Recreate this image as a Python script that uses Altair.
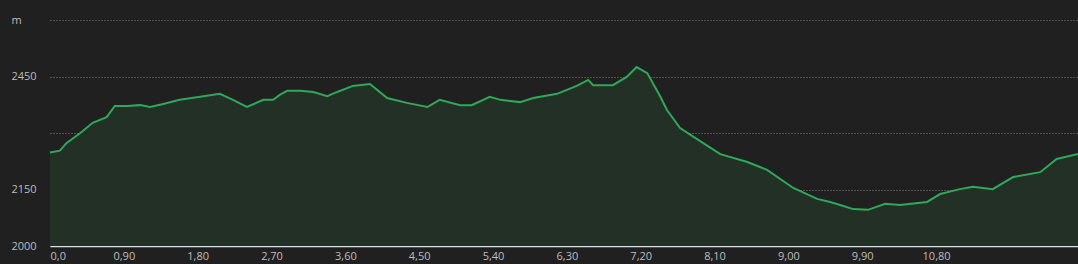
import altair as alt
import pandas as pd

km = [0.00, 0.12, 0.20, 0.37, 0.52, 0.69, 0.79, 0.94, 1.10, 1.22, 1.38, 1.58, 1.83, 2.07, 2.23, 2.40,
      2.60, 2.72, 2.80, 2.89, 3.05, 3.21, 3.38, 3.50, 3.69, 3.90, 4.11, 4.35, 4.60, 4.75, 5.00, 5.14,
      5.36, 5.49, 5.73, 5.89, 6.18, 6.42, 6.56, 6.62, 6.86, 7.03, 7.15, 7.28, 7.44, 7.52, 7.68, 7.92,
      8.17, 8.50, 8.74, 9.06, 9.35, 9.51, 9.67, 9.79, 9.97, 10.18, 10.36, 10.69, 10.85, 11.09, 11.25,
      11.49, 11.74, 12.07, 12.27, 12.53]
elev = [2248, 2253, 2273, 2300, 2327, 2342, 2372, 2372, 2374, 2369, 2377, 2388, 2396, 2404, 2388, 2369,
        2388, 2388, 2401, 2412, 2412, 2409, 2398, 2409, 2425, 2430, 2393, 2380, 2369, 2388, 2374, 2374,
        2396, 2388, 2382, 2393, 2404, 2425, 2441, 2427, 2427, 2449, 2475, 2459, 2396, 2361, 2313, 2279,
        2244, 2223, 2202, 2154, 2125, 2117, 2106, 2098, 2096, 2112, 2109, 2117, 2138, 2151, 2157,
        2151, 2183, 2196, 2231, 2244]

x_ticks = [0, 0.9, 1.8, 2.7, 3.6, 4.5, 5.4, 6.3, 7.2, 8.1, 9.0, 9.9, 10.8]
y_ticks = [2000, 2150, 2300, 2450, 2600]

df = pd.DataFrame({"km": km, "elev": elev})

FONT = "Open Sans"
LABEL = "#bdbdbd"

x_enc = alt.X("km:Q",
              scale=alt.Scale(domain=[0, 12.53], nice=False, zero=False),
              axis=alt.Axis(values=x_ticks, title=None, grid=False, ticks=False,
                            domain=True, domainColor="#d6e2ea", domainWidth=1.5,
                            labelExpr="datum.value == 0 ? '0,0' : replace(format(datum.value, '.2f'), '.', ',')",
                            labelFlush=True, labelPadding=4, labelFontSize=11,
                            labelColor=LABEL, labelFont=FONT, labelOverlap=False))
y_enc = alt.Y("elev:Q",
              scale=alt.Scale(domain=[2000, 2600], nice=False, zero=False),
              axis=alt.Axis(values=y_ticks, title=None, grid=True, gridColor="#9a9a9a",
                            gridDash=[1, 2], gridWidth=1, gridOpacity=0.8,
                            ticks=False, domain=False, labelAlign="left", labelPadding=39,
                            labelBaseline="middle", labelFlush=False, labelOverlap=False,
                            labelExpr="datum.value == 2600 ? 'm' : (datum.value == 2300 ? '' : format(datum.value, 'd'))",
                            labelFontSize=11, labelColor=LABEL, labelFont=FONT))

base = alt.Chart(df)
area = base.mark_area(color="#223026", opacity=1).encode(x=x_enc, y=y_enc, y2=alt.datum(2000))
line = base.mark_line(color="#2fa85a", strokeWidth=2).encode(x="km:Q", y="elev:Q")

chart = alt.layer(area, line).properties(
    width=1028, height=226,
    padding={"left": 50, "top": 20, "right": 0, "bottom": 18},
    autosize=alt.AutoSizeParams(type="none"),
    background="#202020",
).configure_view(stroke=None)

chart.save("out.html", embed_options={"renderer": "svg", "actions": False})
